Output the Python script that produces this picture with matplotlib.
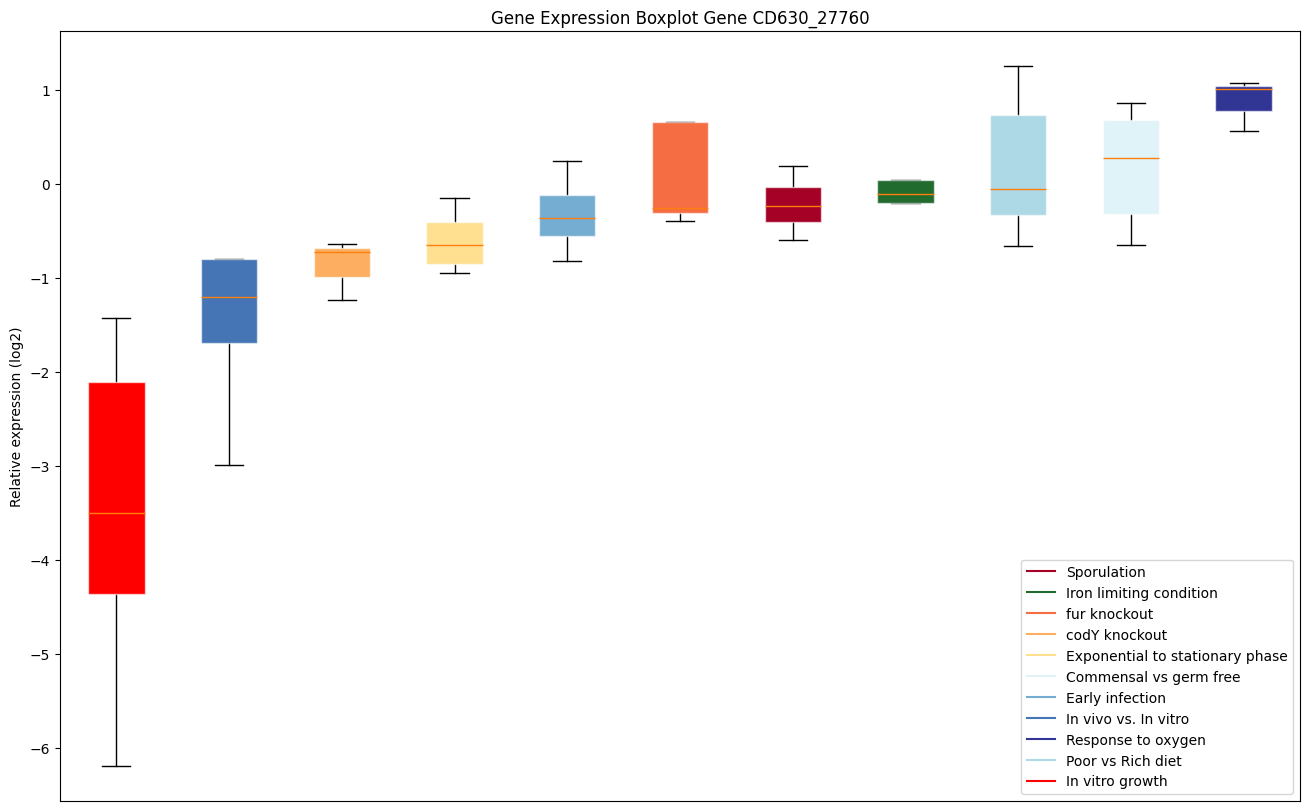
import matplotlib
matplotlib.use("Agg")
import matplotlib.pyplot as plt
from matplotlib.lines import Line2D

conditions = ["In vitro growth", "In vivo vs. In vitro", "codY knockout",
              "Exponential to stationary phase", "Early infection", "fur knockout",
              "Sporulation", "Iron limiting condition", "Poor vs Rich diet",
              "Commensal vs germ free", "Response to oxygen"]
colors = ["#ff0000", "#4575b4", "#fdae61", "#fee090", "#74add1", "#f46d43",
          "#a50026", "#216b2e", "#add8e6", "#e0f3f8", "#313695"]
whislo = [-6.195, -2.99, -1.238, -0.95, -0.823, -0.397, -0.599, -0.199, -0.663, -0.652, 0.561]
q1 = [-4.369, -1.688, -0.986, -0.848, -0.55, -0.305, -0.401, -0.199, -0.326, -0.316, 0.78]
med = [-3.503, -1.206, -0.727, -0.652, -0.362, -0.259, -0.237, -0.106, -0.057, 0.277, 1.007]
q3 = [-2.103, -0.795, -0.681, -0.404, -0.113, 0.663, -0.028, 0.046, 0.734, 0.684, 1.043]
whishi = [-1.43, -0.795, -0.638, -0.152, 0.241, 0.663, 0.191, 0.046, 1.255, 0.862, 1.074]

legend_order = ["Sporulation", "Iron limiting condition", "fur knockout", "codY knockout",
                "Exponential to stationary phase", "Commensal vs germ free", "Early infection",
                "In vivo vs. In vitro", "Response to oxygen", "Poor vs Rich diet", "In vitro growth"]

fig = plt.figure(figsize=(13.09, 8.12), dpi=100)
ax = fig.add_axes([60/1309, 1-802/812, 1240/1309, 770/812])

stats = []
for i, name in enumerate(conditions):
    stats.append(dict(label=name, whislo=whislo[i], q1=q1[i], med=med[i],
                      q3=q3[i], whishi=whishi[i], fliers=[]))

bp = ax.bxp(stats, patch_artist=True, showfliers=False,
            boxprops=dict(zorder=2.5),
            medianprops=dict(color="#ff7f0e", linewidth=1.0, zorder=3),
            whiskerprops=dict(color="black", linewidth=1.0),
            capprops=dict(color="black", linewidth=1.0))
for patch, c in zip(bp["boxes"], colors):
    patch.set_facecolor(c)
    patch.set_edgecolor((1, 1, 1, 0.6))
    patch.set_linewidth(1.0)

ax.set_xticks([])
ax.set_title("Gene Expression Boxplot Gene CD630_27760")
ax.set_ylabel("Relative expression (log2)")

handles = [Line2D([0], [0], color=colors[conditions.index(n)], lw=1.5) for n in legend_order]
ax.legend(handles, legend_order, loc="lower right")

fig.savefig("out.png", dpi=100)
